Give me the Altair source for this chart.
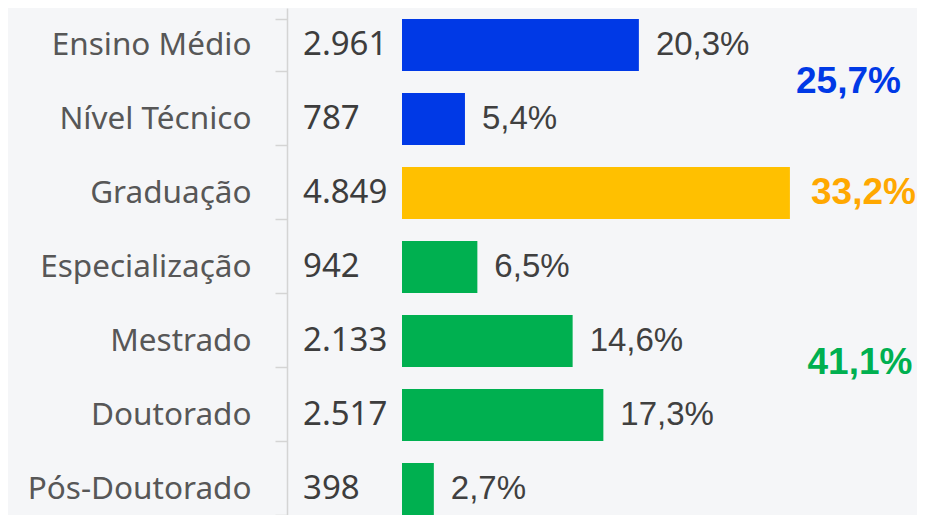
import altair as alt
import pandas as pd

categorias = ["Ensino Médio", "Nível Técnico", "Graduação", "Especialização",
              "Mestrado", "Doutorado", "Pós-Doutorado"]
valores = [2961, 787, 4849, 942, 2133, 2517, 398]
percentuais = ["20,3%", "5,4%", "33,2%", "6,5%", "14,6%", "17,3%", "2,7%"]
grupos = ["Básico", "Básico", "Superior", "Pós", "Pós", "Pós", "Pós"]

grupo_nomes = ["Básico", "Superior", "Pós"]
grupo_totais = ["25,7%", "33,2%", "41,1%"]
grupo_ancora = ["Nível Técnico", "Graduação", "Mestrado"]

cores_barras = ["#0039E6", "#FFC000", "#00B050"]
cores_totais = ["#0039E6", "#FFA800", "#00B050"]

df = pd.DataFrame({
    "categoria": categorias,
    "valor": valores,
    "pct": percentuais,
    "grupo": grupos,
    "num": [f"{v:,}".replace(",", ".") for v in valores],
})

y_enc = alt.Y(
    "categoria:N",
    sort=categorias,
    scale=alt.Scale(range=[0, 518], paddingInner=0.3, paddingOuter=0.15),
    axis=alt.Axis(
        title=None, orient="left", offset=115, tickBand="extent",
        tickSize=12, tickColor="#d4d4d4", tickWidth=1.5,
        domainColor="#d4d4d4", domainWidth=1.5,
        labelPadding=24, labelFont="Noto Sans", labelFontSize=31.5,
        labelColor="#575757", labelLimit=400,
    ),
)
x_enc = alt.X("valor:Q", scale=alt.Scale(domain=[0, 6437.5]), axis=None)

base = alt.Chart(df)

bars = base.mark_bar().encode(
    x=x_enc,
    y=y_enc,
    color=alt.Color("grupo:N", scale=alt.Scale(domain=grupo_nomes, range=cores_barras), legend=None),
)

nums = base.mark_text(align="left", baseline="middle", font="Noto Sans",
                      fontSize=33, color="#3d3d3d").encode(
    x=alt.value(-99),
    y=alt.Y("categoria:N", sort=categorias),
    text="num:N",
)

# the Graduação share is shown only as the large orange group total
pcts = base.transform_filter(alt.datum.grupo != "Superior").mark_text(
    align="left", baseline="middle", dx=17, font="Liberation Sans",
    fontSize=33, color="#404040").encode(
    x=x_enc,
    y=alt.Y("categoria:N", sort=categorias),
    text="pct:N",
)

layers = [bars, nums, pcts]
tot_x = [446.5, 461.5, 458]
tot_dy = [-37, 0, 22]
for nome, total, ancora, cor, px, dy in zip(grupo_nomes, grupo_totais, grupo_ancora,
                                            cores_totais, tot_x, tot_dy):
    tdf = pd.DataFrame({"categoria": [ancora], "total": [total]})
    layers.append(
        alt.Chart(tdf).mark_text(align="center", baseline="middle", dy=dy,
                                 font="Liberation Sans", fontWeight="bold",
                                 fontSize=37, color=cor).encode(
            x=alt.value(px),
            y=alt.Y("categoria:N", sort=categorias),
            text="total:N",
        )
    )

chart = alt.layer(*layers).properties(
    width=515, height=507,
    autosize=alt.AutoSizeParams(type="none"),
    padding={"left": 394, "top": 0, "right": 0, "bottom": 0},
    background="#f5f6f8",
).configure_view(stroke=None)

chart.save("out.html", embed_options={"renderer": "svg", "actions": False})
